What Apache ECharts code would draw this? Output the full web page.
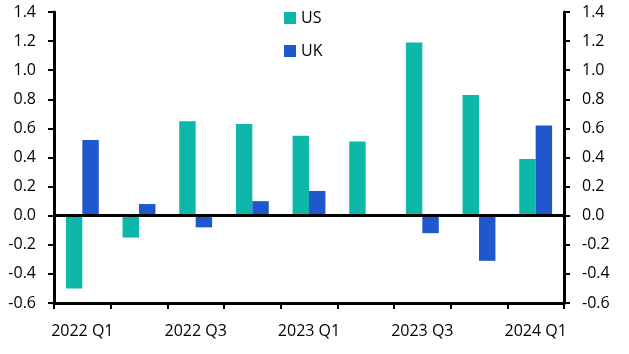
<!doctype html>
<html>
<head>
<meta charset="UTF-8">
<title></title>
<script src="https://cdn.jsdelivr.net/npm/echarts@6/dist/echarts.min.js"></script>
<style>
	html, body { margin: 0; padding: 0; background: #fff; }
	#chart { width: 629px; height: 354px; }
</style>
</head>
<body>
<div id="chart"></div>
<script>
	// 季度
	var quarters = ['2022 Q1', '2022 Q2', '2022 Q3', '2022 Q4', '2023 Q1', '2023 Q2', '2023 Q3', '2023 Q4', '2024 Q1'];
	var usData = [-0.50, -0.15, 0.65, 0.63, 0.55, 0.51, 1.19, 0.83, 0.39];
	var ukData = [0.52, 0.08, -0.08, 0.10, 0.17, 0.00, -0.12, -0.31, 0.62];

	var myChart = echarts.init(document.getElementById('chart'));
	var font = 'Open Sans';

	var yAxisBase = {
		type: 'value',
		min: -0.6,
		max: 1.4,
		interval: 0.2,
		axisLine: { show: true, lineStyle: { color: '#000', width: 3 } },
		axisTick: { show: true, length: 6, lineStyle: { color: '#000', width: 2 } },
		splitLine: { show: false },
		axisLabel: {
			color: '#000',
			fontSize: 16,
			fontFamily: font,
			formatter: function(v) { return v.toFixed(1); }
		}
	};

	var option = {
		backgroundColor: '#fff',
		animation: false,
		grid: { left: 54, right: 65, top: 12, bottom: 51 },
		legend: {
			orient: 'vertical',
			left: 279,
			top: 5,
			itemWidth: 12,
			itemHeight: 12,
			itemGap: 17,
			icon: 'rect',
			textStyle: { color: '#000', fontSize: 16, fontFamily: font },
			data: ['US', 'UK']
		},
		xAxis: {
			type: 'category',
			data: quarters,
			boundaryGap: true,
			axisLine: { show: true, onZero: false, lineStyle: { color: '#000', width: 3 } },
			axisTick: { show: true, interval: 0, length: 6, lineStyle: { color: '#000', width: 2 } },
			axisLabel: {
				interval: 1,
				margin: 20,
				color: '#000',
				fontSize: 16,
				fontFamily: font
			}
		},
		yAxis: [
			Object.assign({}, yAxisBase, { position: 'left', axisLabel: Object.assign({}, yAxisBase.axisLabel, { margin: 18 }) }),
			Object.assign({}, yAxisBase, { position: 'right', axisLabel: Object.assign({}, yAxisBase.axisLabel, { margin: 18 }) })
		],
		series: [{
			name: 'US',
			type: 'bar',
			data: usData,
			barWidth: '29%',
			barGap: '0%',
			itemStyle: { color: '#0DB8AA' },
			markLine: {
				silent: true,
				symbol: 'none',
				label: { show: false },
				lineStyle: { color: '#000', width: 3, type: 'solid' },
				data: [{ yAxis: 0 }]
			}
		}, {
			name: 'UK',
			type: 'bar',
			data: ukData,
			barWidth: '29%',
			itemStyle: { color: '#1F57CD' }
		}]
	};

	myChart.setOption(option);
</script>
</body>
</html>
